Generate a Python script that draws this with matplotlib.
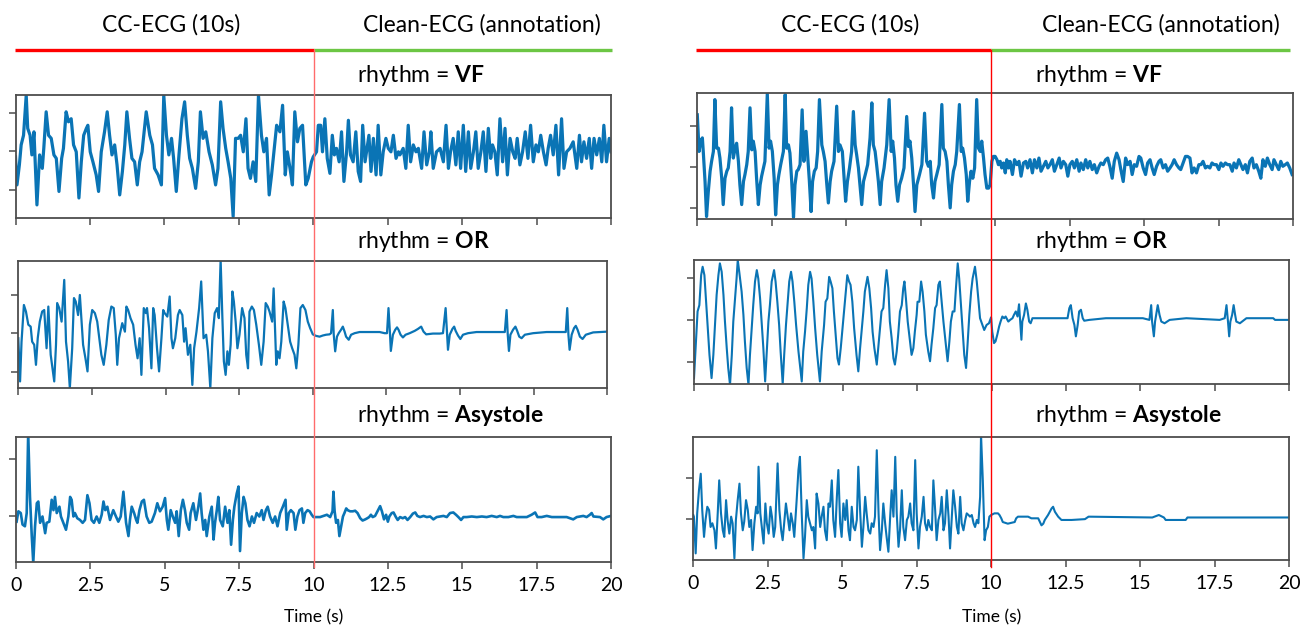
import matplotlib
matplotlib.use("Agg")
import matplotlib.pyplot as plt
from matplotlib.lines import Line2D

plt.rcParams['font.family'] = ['Lato', 'DejaVu Sans']
plt.rcParams['mathtext.fontset'] = 'custom'
plt.rcParams['mathtext.rm'] = 'Lato'
plt.rcParams['mathtext.bf'] = 'Lato:bold'

# ---------------------------------------------------------------- data
# (time [s], amplitude [a.u.]) vertices of each recording
vf_left = [
    (0.00, -0.15), (0.05, -0.88), (0.13, -0.36), (0.19, 0.16), (0.27, 0.41), (0.36, 1.45), (0.41, 0.59),
    (0.49, 0.41), (0.55, -0.10), (0.62, 0.50), (0.72, -1.40), (0.81, -0.10), (0.90, -0.45), (0.95, 0.07),
    (1.03, 1.02), (1.11, 0.41), (1.20, 0.33), (1.29, -0.10), (1.37, -0.19), (1.46, -1.05), (1.55, -0.19),
    (1.61, 0.07), (1.70, 1.02), (1.78, 0.76), (1.87, 0.84), (1.95, 0.16), (2.04, -0.02), (2.13, -1.22),
    (2.21, -0.28), (2.29, 0.41), (2.38, 0.59), (2.43, 0.67), (2.51, -0.02), (2.60, -0.28), (2.71, -0.62),
    (2.79, -1.05), (2.88, -0.02), (2.99, 0.50), (3.08, 1.02), (3.16, 0.41), (3.24, -0.10), (3.33, 0.16),
    (3.41, -0.36), (3.50, -1.14), (3.59, -0.53), (3.67, 0.16), (3.74, 1.02), (3.83, 0.33), (3.91, -0.19),
    (4.00, -0.28), (4.09, -0.88), (4.17, -0.28), (4.25, -0.02), (4.32, 0.50), (4.39, 1.02), (4.51, 0.41),
    (4.60, 0.16), (4.67, -0.45), (4.79, -0.62), (4.90, -0.88), (4.98, 1.45), (5.07, 0.41), (5.15, -0.10),
    (5.24, 0.33), (5.31, -0.19), (5.40, -1.05), (5.49, -0.10), (5.59, 0.84), (5.68, 1.28), (5.77, 0.41),
    (5.85, -0.19), (5.94, -0.45), (6.05, -0.97), (6.14, -0.28), (6.21, 1.02), (6.30, 0.33), (6.39, 0.50),
    (6.50, -0.02), (6.61, -0.36), (6.72, -0.88), (6.80, -0.45), (6.89, 1.28), (6.97, 0.59), (7.06, 0.07),
    (7.14, -0.28), (7.23, -0.71), (7.31, -1.70), (7.39, 0.33), (7.48, 0.33), (7.56, 0.41), (7.65, -0.02),
    (7.74, 0.84), (7.81, -0.45), (7.89, -0.71), (7.98, -0.28), (8.07, -0.79), (8.16, 1.45), (8.26, 0.41),
    (8.34, -0.02), (8.43, 0.33), (8.52, -1.14), (8.60, -0.62), (8.68, -0.02), (8.77, 0.67), (8.88, 0.50),
    (8.97, 1.19), (9.06, -0.62), (9.13, -0.02), (9.22, -0.45), (9.30, -0.88), (9.38, 1.02), (9.47, 0.24),
    (9.55, 0.59), (9.64, 0.67), (9.75, -0.88), (9.83, -0.71), (9.94, -0.28),
    (10.00, -0.15), (10.11, -0.02), (10.17, 0.67), (10.25, 0.67), (10.31, -0.02), (10.39, 0.84),
    (10.47, -0.19), (10.56, -0.58), (10.64, 0.41), (10.71, -0.10), (10.78, 0.07), (10.87, -0.28),
    (10.95, 0.50), (11.03, -0.79), (11.12, -0.02), (11.18, 0.80), (11.25, -0.10), (11.34, -0.28),
    (11.43, 0.50), (11.51, -0.53), (11.59, -0.79), (11.66, 0.67), (11.74, -0.28), (11.79, -0.02),
    (11.87, 0.41), (11.94, -0.53), (12.02, 0.33), (12.11, -0.62), (12.18, 0.67), (12.27, -0.62),
    (12.35, -0.02), (12.44, 0.33), (12.52, 0.07), (12.61, -0.02), (12.69, 0.41), (12.78, -0.19),
    (12.86, -0.02), (12.91, -0.10), (13.02, 0.07), (13.11, -0.45), (13.19, 0.67), (13.27, -0.28),
    (13.36, 0.16), (13.45, -0.02), (13.53, 0.07), (13.64, -0.45), (13.72, 0.50), (13.81, -0.36),
    (13.90, -0.02), (13.95, 0.50), (14.03, -0.45), (14.14, -0.02), (14.26, 0.07), (14.37, -0.28),
    (14.46, 0.67), (14.54, -0.45), (14.61, -0.02), (14.70, 0.33), (14.79, -0.36), (14.87, 0.50),
    (14.95, -0.45), (15.04, 0.67), (15.12, -0.53), (15.21, 0.50), (15.29, -0.45), (15.38, -0.02),
    (15.46, 0.50), (15.54, -0.45), (15.63, -0.02), (15.71, 0.50), (15.80, -0.53), (15.88, 0.59),
    (15.96, -0.19), (16.02, 0.16), (16.10, -0.02), (16.18, -0.62), (16.27, 0.84), (16.36, -0.28),
    (16.44, 0.59), (16.52, -0.62), (16.61, 0.33), (16.70, -0.02), (16.78, -0.19), (16.85, 0.33),
    (16.94, -0.36), (17.03, -0.02), (17.12, 0.50), (17.21, -0.19), (17.30, 0.67), (17.39, -0.28),
    (17.48, 0.16), (17.56, -0.02), (17.64, 0.41), (17.73, -0.02), (17.82, -0.36), (17.89, 0.07),
    (17.97, 0.41), (18.06, -0.10), (18.15, 0.67), (18.24, -0.62), (18.34, 0.84), (18.42, -0.45),
    (18.51, -0.02), (18.62, 0.07), (18.73, 0.24), (18.85, -0.45), (18.94, 0.41), (19.01, -0.28),
    (19.09, 0.24), (19.18, -0.19), (19.27, 0.33), (19.35, -0.45), (19.43, 0.33), (19.52, -0.10),
    (19.61, 0.33), (19.69, -0.28), (19.76, 0.67), (19.85, -0.28), (19.94, 0.33), (20.00, -0.02),
]

or_left = [
    (0.00, -0.13), (0.06, -1.25), (0.11, -0.22), (0.19, 0.73), (0.26, 0.56), (0.34, 0.22), (0.42, 0.17),
    (0.47, -0.22), (0.54, -0.30), (0.60, -0.82), (0.66, -0.13), (0.73, 0.30), (0.81, 0.56), (0.88, 0.60),
    (0.96, -0.39), (1.02, 0.69), (1.10, -0.56), (1.16, -0.91), (1.22, -1.25), (1.28, -0.30), (1.32, 0.78),
    (1.39, 0.65), (1.47, 0.30), (1.56, 1.38), (1.62, -0.22), (1.69, -0.73), (1.75, -1.42), (1.83, -0.39),
    (1.89, 0.91), (1.95, 0.82), (2.03, 0.47), (2.09, 0.99), (2.15, 0.30), (2.20, -0.30), (2.28, -0.65),
    (2.35, -0.99), (2.43, 0.22), (2.51, 0.60), (2.60, 0.52), (2.68, 0.30), (2.75, -0.13), (2.82, -0.56),
    (2.90, -0.82), (2.99, -0.30), (3.07, 0.34), (3.16, 0.69), (3.24, 0.65), (3.31, -0.04), (3.36, -0.82),
    (3.42, -0.13), (3.53, 0.26), (3.62, 0.04), (3.67, 0.69), (3.73, 0.60), (3.81, 0.39), (3.90, 0.22),
    (3.98, -0.30), (4.05, -0.65), (4.12, -0.13), (4.18, -1.08), (4.26, 0.65), (4.33, 0.52), (4.37, 0.65),
    (4.44, 0.13), (4.52, -0.91), (4.58, 0.65), (4.63, 0.47), (4.71, -0.39), (4.78, -0.99), (4.86, -0.13),
    (4.92, 0.60), (4.97, 0.52), (5.06, 0.43), (5.14, 0.95), (5.20, -0.13), (5.25, -0.39), (5.33, -0.13),
    (5.42, 0.47), (5.48, 0.60), (5.57, 0.47), (5.63, -0.22), (5.68, 0.13), (5.76, -0.56), (5.84, -0.30),
    (5.91, -1.34), (5.97, -0.39), (6.05, 0.04), (6.14, 0.65), (6.21, 1.34), (6.29, -0.13), (6.38, -0.04),
    (6.44, -0.47), (6.52, -1.42), (6.59, -0.13), (6.67, 0.52), (6.75, 0.65), (6.81, 0.39), (6.87, 1.90),
    (6.93, 0.39), (6.98, -0.73), (7.04, -1.08), (7.10, -0.47), (7.15, -0.82), (7.21, -0.30), (7.27, 1.08),
    (7.32, 0.82), (7.38, 0.30), (7.44, -0.39), (7.51, -0.04), (7.60, 0.65), (7.68, 0.39), (7.74, -0.56),
    (7.80, -0.91), (7.85, 0.56), (7.93, 0.69), (8.00, 0.60), (8.08, 0.22), (8.17, -0.30), (8.25, -0.82),
    (8.33, -0.22), (8.40, 0.78), (8.47, 0.69), (8.53, 0.56), (8.62, 0.30), (8.67, 1.16), (8.71, 0.30),
    (8.76, -0.82), (8.81, -0.47), (8.87, -0.65), (8.93, -0.22), (9.01, 0.82), (9.07, 0.65), (9.15, 0.22),
    (9.23, -0.22), (9.30, -0.39), (9.38, -0.56), (9.44, -0.91), (9.51, -0.30), (9.58, 0.65), (9.66, 0.73),
    (9.75, 0.60), (9.83, 0.30), (9.91, 0.13),
    (10.00, -0.03), (10.11, -0.07), (10.23, -0.09), (10.34, -0.06), (10.45, -0.04), (10.57, -0.03),
    (10.62, 0.00), (10.68, 0.60), (10.71, -0.03), (10.76, -0.47), (10.82, -0.09), (10.88, 0.00),
    (10.96, 0.09), (11.02, 0.17), (11.08, 0.04), (11.13, -0.09), (11.22, -0.17), (11.30, -0.04),
    (11.42, 0.00), (11.59, 0.03), (12.27, 0.03), (12.44, 0.00), (12.52, 0.00), (12.57, 0.65),
    (12.62, 0.00), (12.65, -0.46), (12.72, -0.04), (12.80, 0.09), (12.86, 0.15), (12.91, 0.09),
    (12.98, -0.04), (13.06, -0.11), (13.15, -0.04), (13.29, 0.00), (13.46, 0.06), (13.57, 0.11),
    (13.68, 0.17), (13.76, 0.04), (13.85, -0.03), (14.08, -0.01), (14.31, -0.01), (14.42, 0.00),
    (14.51, 0.65), (14.56, -0.04), (14.59, -0.43), (14.65, -0.04), (14.74, 0.11), (14.80, 0.17),
    (14.85, 0.06), (14.93, -0.06), (15.01, -0.15), (15.10, -0.04), (15.27, 0.00), (15.56, 0.03),
    (16.52, 0.03), (16.58, 0.60), (16.62, -0.04), (16.66, -0.46), (16.71, -0.04), (16.80, 0.09),
    (16.88, 0.17), (16.94, 0.06), (17.01, -0.09), (17.09, -0.13), (17.20, -0.04), (17.48, 0.00),
    (17.94, 0.03), (18.59, 0.03), (18.64, 0.65), (18.68, -0.04), (18.72, -0.43), (18.79, -0.04),
    (18.87, 0.13), (18.93, 0.19), (18.99, 0.09), (19.07, -0.09), (19.16, -0.15), (19.27, -0.04),
    (19.52, 0.02), (20.00, 0.04),
]

asys_left = [
    (0.02, -0.09), (0.08, 0.09), (0.16, 0.06), (0.22, -0.14), (0.30, -0.17), (0.36, 0.06), (0.41, 1.45),
    (0.47, 0.34), (0.53, -0.34), (0.58, -0.80), (0.64, -0.17), (0.70, 0.23), (0.75, 0.26), (0.81, -0.11),
    (0.89, 0.00), (0.98, -0.29), (1.03, -0.11), (1.12, -0.09), (1.20, 0.29), (1.26, 0.11), (1.31, 0.34),
    (1.37, 0.06), (1.46, 0.17), (1.51, 0.00), (1.59, -0.11), (1.68, -0.23), (1.76, 0.00), (1.82, 0.34),
    (1.87, 0.29), (1.93, 0.00), (1.98, 0.06), (2.06, -0.03), (2.15, -0.06), (2.24, -0.11), (2.32, -0.06),
    (2.40, 0.37), (2.47, 0.23), (2.54, -0.06), (2.62, -0.11), (2.71, 0.00), (2.80, -0.11), (2.88, 0.03),
    (2.94, 0.26), (3.00, 0.11), (3.07, 0.17), (3.16, -0.06), (3.27, 0.11), (3.36, 0.00), (3.44, -0.09),
    (3.52, 0.00), (3.61, 0.43), (3.70, -0.11), (3.78, -0.34), (3.83, -0.06), (3.89, 0.17), (3.97, 0.06),
    (4.04, -0.06), (4.08, -0.11), (4.15, 0.11), (4.23, 0.26), (4.30, 0.29), (4.39, 0.00), (4.48, -0.11),
    (4.56, -0.09), (4.67, 0.06), (4.75, 0.23), (4.84, 0.09), (4.93, 0.17), (5.01, 0.32), (5.07, -0.06),
    (5.12, -0.23), (5.20, 0.11), (5.27, 0.00), (5.35, -0.11), (5.40, 0.09), (5.47, -0.34), (5.54, 0.11),
    (5.61, 0.29), (5.68, 0.11), (5.74, -0.11), (5.82, -0.23), (5.87, 0.06), (5.96, 0.23), (6.05, -0.06),
    (6.13, 0.17), (6.19, 0.40), (6.24, 0.06), (6.30, -0.23), (6.36, -0.06), (6.41, -0.34), (6.50, 0.00),
    (6.58, 0.17), (6.64, -0.40), (6.69, -0.11), (6.75, 0.11), (6.80, 0.34), (6.86, -0.06), (6.95, -0.17),
    (7.03, 0.17), (7.11, -0.11), (7.17, 0.11), (7.23, -0.49), (7.29, -0.06), (7.34, 0.17), (7.42, 0.40),
    (7.48, 0.52), (7.53, -0.60), (7.59, 0.06), (7.65, 0.34), (7.71, 0.23), (7.78, -0.06), (7.85, -0.17),
    (7.93, 0.00), (8.00, -0.11), (8.09, 0.06), (8.18, 0.00), (8.26, 0.11), (8.32, -0.06), (8.40, 0.11),
    (8.46, 0.17), (8.54, 0.00), (8.63, -0.11), (8.71, 0.00), (8.79, -0.17), (8.88, 0.06), (8.97, 0.17),
    (9.06, 0.29), (9.10, -0.23), (9.17, 0.06), (9.24, 0.11), (9.33, 0.06), (9.39, -0.23), (9.46, 0.00),
    (9.53, 0.11), (9.61, 0.14), (9.66, -0.11), (9.72, 0.06), (9.80, 0.11), (9.87, 0.09), (9.94, 0.03),
    (10.00, -0.01), (10.22, -0.01), (10.34, 0.01), (10.45, 0.03), (10.56, -0.01), (10.64, 0.09),
    (10.67, 0.43), (10.71, 0.09), (10.76, -0.11), (10.82, -0.06), (10.87, -0.34), (10.93, -0.17),
    (10.99, 0.00), (11.04, 0.06), (11.10, 0.14), (11.15, 0.11), (11.23, 0.09), (11.32, 0.09),
    (11.40, 0.10), (11.48, 0.06), (11.57, -0.03), (11.65, -0.07), (11.74, -0.05), (11.81, -0.03),
    (11.87, -0.01), (11.93, 0.03), (11.99, -0.01), (12.07, 0.01), (12.15, 0.09), (12.24, 0.18),
    (12.30, 0.09), (12.37, -0.05), (12.44, 0.03), (12.50, -0.09), (12.55, 0.00), (12.63, 0.06),
    (12.69, 0.07), (12.77, -0.01), (12.83, -0.06), (12.91, -0.01), (13.00, -0.03), (13.08, -0.01),
    (13.16, -0.06), (13.25, -0.01), (13.34, 0.05), (13.42, 0.07), (13.49, 0.01), (13.58, -0.01),
    (13.70, 0.01), (13.81, -0.01), (13.92, 0.00), (14.03, -0.05), (14.14, -0.01), (14.26, 0.00),
    (14.37, 0.01), (14.48, -0.01), (14.59, 0.06), (14.70, 0.07), (14.79, 0.03), (14.87, -0.01),
    (14.96, -0.06), (15.04, -0.01), (15.15, -0.01), (15.32, 0.00), (15.49, -0.01), (15.66, 0.00),
    (15.82, -0.01), (15.99, 0.01), (16.16, -0.01), (16.27, 0.01), (16.38, -0.01), (16.55, -0.01),
    (16.72, 0.01), (16.83, -0.01), (17.17, -0.01), (17.33, 0.03), (17.45, 0.07), (17.53, -0.01),
    (17.67, -0.01), (17.84, 0.01), (18.01, -0.01), (18.51, -0.01), (18.73, -0.05), (18.85, -0.01),
    (19.07, 0.01), (19.18, -0.01), (19.29, 0.03), (19.35, 0.06), (19.41, 0.00), (19.63, -0.01),
    (19.74, -0.05), (19.85, -0.01), (20.00, 0.01),
]

vf_right = [
    (0.00, 1.26), (0.06, 0.37), (0.11, 0.62), (0.17, 0.70), (0.20, 0.37), (0.26, -0.36), (0.31, -1.21),
    (0.37, -0.60), (0.43, -0.11), (0.48, 0.13), (0.54, 0.37), (0.59, 1.63), (0.65, 0.45), (0.71, 0.45),
    (0.76, 0.21), (0.82, -0.28), (0.87, -0.92), (0.93, -0.28), (0.99, -0.11), (1.04, -0.03), (1.10, 0.37),
    (1.15, 1.43), (1.21, 0.21), (1.27, 0.45), (1.32, 0.57), (1.38, 0.13), (1.43, -0.44), (1.49, -0.92),
    (1.55, -0.36), (1.60, -0.19), (1.66, 0.05), (1.71, 0.37), (1.77, 1.43), (1.83, 0.41), (1.88, 0.62),
    (1.94, 0.37), (1.99, -0.28), (2.05, -0.92), (2.11, -0.44), (2.16, -0.23), (2.22, -0.03), (2.27, 0.13),
    (2.35, 1.77), (2.41, 0.45), (2.46, 0.62), (2.52, 0.37), (2.58, -0.28), (2.63, -1.17), (2.69, -0.44),
    (2.74, -0.19), (2.80, 0.05), (2.89, 0.37), (2.95, 1.75), (3.00, 0.45), (3.06, 0.53), (3.11, 0.33),
    (3.17, -0.36), (3.23, -1.23), (3.28, -0.44), (3.34, -0.11), (3.39, -0.07), (3.45, 0.05), (3.52, 1.38),
    (3.58, 0.13), (3.65, 0.86), (3.71, 0.21), (3.76, -0.32), (3.82, -1.09), (3.87, -0.36), (3.93, -0.11),
    (3.99, -0.03), (4.04, 0.37), (4.10, 1.63), (4.18, 0.53), (4.23, 0.37), (4.29, 0.13), (4.34, -0.36),
    (4.40, -0.88), (4.46, -0.36), (4.51, -0.11), (4.59, 0.13), (4.68, 1.47), (4.74, 0.37), (4.79, 0.53),
    (4.87, 0.37), (4.93, -0.28), (4.98, -0.84), (5.04, -0.36), (5.11, -0.03), (5.18, 0.37), (5.24, 1.34),
    (5.30, 0.53), (5.35, 0.29), (5.41, -0.03), (5.46, -0.44), (5.52, -0.92), (5.58, -0.36), (5.64, -0.19),
    (5.72, 0.05), (5.80, 0.70), (5.86, 1.55), (5.91, 0.53), (5.97, 0.37), (6.02, 0.05), (6.08, -0.36),
    (6.14, -0.92), (6.19, -0.36), (6.27, -0.03), (6.36, 0.53), (6.44, 1.63), (6.51, 0.37), (6.56, 0.62),
    (6.62, 0.21), (6.67, -0.44), (6.73, -0.84), (6.79, -0.44), (6.86, -0.28), (6.94, -0.03), (7.03, 1.22),
    (7.09, 0.49), (7.14, 0.62), (7.20, 0.21), (7.26, -0.44), (7.31, -1.09), (7.37, -0.44), (7.46, -0.19),
    (7.54, 0.05), (7.63, 1.30), (7.70, 0.13), (7.76, 0.01), (7.82, 0.13), (7.87, -0.44), (7.93, -0.76),
    (7.98, -0.36), (8.04, -0.19), (8.12, 0.05), (8.21, 1.51), (8.26, 0.45), (8.32, 0.37), (8.38, 0.13),
    (8.43, -0.44), (8.49, -1.00), (8.54, -0.44), (8.60, -0.11), (8.66, 0.05), (8.71, 0.37), (8.80, 1.51),
    (8.86, 0.37), (8.91, 0.45), (8.97, 0.21), (9.03, -0.19), (9.08, -0.84), (9.14, -0.36), (9.19, -0.11),
    (9.25, -0.28), (9.31, -0.03), (9.38, 1.63), (9.44, 0.45), (9.50, 0.37), (9.55, 0.62), (9.61, 0.21),
    (9.66, -0.19), (9.72, -0.52), (9.78, -0.52), (9.83, -0.44), (9.89, 0.13), (9.94, 0.25),
    (10.00, 0.25), (10.06, 0.17), (10.11, 0.05), (10.17, 0.13), (10.22, -0.03), (10.28, 0.09),
    (10.34, -0.15), (10.39, 0.17), (10.45, -0.03), (10.50, 0.13), (10.58, -0.19), (10.65, 0.17),
    (10.73, 0.05), (10.80, 0.13), (10.87, -0.23), (10.95, 0.09), (11.03, 0.13), (11.09, -0.03),
    (11.17, 0.17), (11.25, -0.15), (11.32, 0.17), (11.40, -0.03), (11.47, 0.21), (11.54, -0.11),
    (11.62, 0.01), (11.70, 0.13), (11.77, -0.03), (11.84, 0.05), (11.92, 0.17), (11.99, -0.11),
    (12.07, 0.05), (12.15, 0.21), (12.21, -0.03), (12.29, 0.13), (12.37, 0.05), (12.44, -0.23),
    (12.51, 0.05), (12.59, 0.13), (12.66, -0.03), (12.74, 0.17), (12.82, -0.11), (12.88, 0.09),
    (12.96, -0.07), (13.04, 0.17), (13.11, -0.03), (13.18, 0.13), (13.26, -0.07), (13.33, 0.05),
    (13.41, -0.15), (13.49, 0.01), (13.55, 0.09), (13.63, 0.05), (13.71, 0.17), (13.78, 0.21),
    (13.85, 0.01), (13.93, -0.28), (14.00, 0.13), (14.08, 0.33), (14.16, 0.17), (14.22, -0.07),
    (14.30, -0.36), (14.38, 0.21), (14.45, 0.05), (14.53, 0.13), (14.60, -0.19), (14.67, 0.05),
    (14.75, 0.01), (14.83, 0.25), (14.89, 0.21), (14.97, -0.03), (15.05, -0.19), (15.12, 0.09),
    (15.20, 0.17), (15.27, -0.03), (15.34, -0.19), (15.42, 0.01), (15.50, 0.13), (15.56, 0.17),
    (15.64, -0.03), (15.72, 0.05), (15.79, -0.11), (15.87, -0.03), (15.94, 0.05), (16.01, 0.17),
    (16.09, 0.05), (16.17, -0.03), (16.23, -0.07), (16.31, 0.09), (16.39, 0.25), (16.46, 0.25),
    (16.54, 0.21), (16.61, -0.15), (16.68, -0.03), (16.76, -0.15), (16.84, 0.05), (16.91, 0.05),
    (16.98, 0.13), (17.06, -0.03), (17.13, 0.01), (17.21, -0.03), (17.28, 0.09), (17.35, 0.05),
    (17.43, 0.05), (17.51, -0.07), (17.58, 0.09), (17.65, 0.01), (17.73, 0.09), (17.80, 0.05),
    (17.88, 0.05), (17.96, -0.11), (18.02, 0.09), (18.10, -0.03), (18.18, 0.17), (18.25, 0.05),
    (18.32, -0.07), (18.40, 0.05), (18.47, -0.15), (18.55, 0.13), (18.63, 0.21), (18.69, -0.03),
    (18.77, 0.05), (18.85, -0.11), (18.92, -0.28), (18.99, 0.17), (19.07, 0.01), (19.14, 0.21),
    (19.22, 0.05), (19.30, -0.07), (19.36, 0.17), (19.44, 0.05), (19.52, -0.07), (19.59, 0.13),
    (19.66, 0.01), (19.74, 0.05), (19.81, 0.09), (19.89, -0.03), (19.97, -0.19),
]

or_right = [
    (0.00, -1.38), (0.07, -0.43), (0.12, 0.20), (0.18, 0.35), (0.24, 1.06), (0.29, 1.26), (0.35, 1.06),
    (0.40, 0.51), (0.46, -0.12), (0.52, -0.83), (0.59, -1.38), (0.65, -0.83), (0.71, -0.04), (0.76, 0.59),
    (0.82, 1.06), (0.87, 1.34), (0.93, 1.14), (0.99, 0.59), (1.04, -0.04), (1.10, -0.67), (1.15, -1.14),
    (1.21, -1.54), (1.27, -0.83), (1.32, -0.04), (1.38, 0.51), (1.43, 0.98), (1.47, 1.42), (1.52, 1.14),
    (1.60, 0.67), (1.66, 0.12), (1.71, -0.51), (1.77, -1.14), (1.83, -1.54), (1.88, -0.83), (1.94, -0.20),
    (1.99, 0.35), (2.05, 0.91), (2.11, 1.18), (2.16, 0.98), (2.22, 0.51), (2.27, -0.04), (2.33, -0.67),
    (2.39, -1.46), (2.44, -0.83), (2.50, -0.04), (2.55, 0.35), (2.61, 0.91), (2.69, 1.18), (2.74, 0.91),
    (2.80, 0.43), (2.86, -0.12), (2.91, -0.75), (2.98, -1.52), (3.03, -0.83), (3.09, -0.12), (3.15, 0.43),
    (3.20, 0.91), (3.26, 1.14), (3.31, 0.91), (3.37, 0.43), (3.43, -0.12), (3.51, -0.75), (3.62, -1.46),
    (3.67, -0.75), (3.73, -0.28), (3.79, 0.28), (3.84, 0.83), (3.90, 1.14), (3.95, 0.98), (4.01, 0.43),
    (4.07, -0.20), (4.14, -0.83), (4.23, -1.46), (4.29, -0.75), (4.37, -0.12), (4.42, 0.43), (4.48, 0.51),
    (4.54, 1.02), (4.59, 0.91), (4.65, 0.75), (4.70, 0.20), (4.76, -0.35), (4.82, -0.91), (4.87, -1.06),
    (4.93, -0.67), (4.98, -0.28), (5.04, 0.20), (5.10, 0.67), (5.15, 1.06), (5.21, 0.91), (5.26, 0.83),
    (5.32, 0.43), (5.38, -0.20), (5.46, -0.83), (5.52, -1.22), (5.58, -0.67), (5.63, -0.28), (5.69, 0.20),
    (5.74, 0.67), (5.83, 1.02), (5.89, 0.75), (5.95, 0.28), (6.00, -0.28), (6.06, -0.67), (6.14, -1.06),
    (6.19, -0.67), (6.25, -0.20), (6.30, 0.20), (6.36, 0.28), (6.42, 0.83), (6.47, 1.18), (6.53, 0.75),
    (6.58, -0.04), (6.64, -0.43), (6.70, -0.91), (6.75, -1.06), (6.81, -0.75), (6.86, -0.35), (6.92, 0.20),
    (6.98, 0.35), (7.03, 0.75), (7.07, 0.91), (7.12, 0.51), (7.18, -0.04), (7.23, -0.35), (7.31, -0.83),
    (7.37, -0.67), (7.42, -0.28), (7.48, 0.12), (7.51, 0.43), (7.57, 0.43), (7.63, 0.91), (7.68, 0.67),
    (7.74, 0.20), (7.79, -0.35), (7.87, -0.75), (7.93, -0.98), (7.98, -0.59), (8.04, -0.20), (8.10, 0.28),
    (8.15, 0.35), (8.21, 0.83), (8.26, 0.91), (8.32, 0.43), (8.38, -0.04), (8.45, -0.51), (8.52, -0.98),
    (8.58, -0.51), (8.63, -0.04), (8.69, 0.20), (8.75, 0.20), (8.80, 0.75), (8.86, 1.34), (8.91, 0.98),
    (8.97, 0.35), (9.03, -0.28), (9.08, -0.83), (9.14, -1.14), (9.19, -0.59), (9.25, 0.12), (9.31, 0.67),
    (9.36, 0.98), (9.44, 1.26), (9.50, 0.91), (9.55, 0.51), (9.61, 0.04), (9.69, -0.12), (9.75, -0.24),
    (9.83, -0.12), (9.91, -0.08), (9.98, 0.06),
    (10.02, -0.28), (10.08, -0.55), (10.13, -0.51), (10.19, -0.35), (10.25, -0.16), (10.30, -0.04),
    (10.36, 0.08), (10.42, 0.04), (10.47, 0.08), (10.56, -0.04), (10.62, 0.00), (10.70, 0.04),
    (10.75, 0.12), (10.81, 0.20), (10.87, 0.08), (10.92, 0.37), (10.96, -0.04), (11.00, -0.47),
    (11.03, -0.04), (11.09, 0.12), (11.15, 0.39), (11.20, 0.24), (11.26, -0.04), (11.31, -0.08),
    (11.37, 0.04), (12.27, 0.04), (12.55, 0.04), (12.61, 0.28), (12.66, 0.35), (12.72, 0.04),
    (12.78, -0.12), (12.83, -0.39), (12.89, -0.12), (12.94, 0.20), (13.00, 0.24), (13.06, 0.04),
    (13.11, -0.02), (13.28, 0.00), (13.84, 0.04), (15.08, 0.04), (15.30, 0.00), (15.36, 0.35),
    (15.39, -0.04), (15.45, -0.39), (15.49, -0.04), (15.58, 0.35), (15.64, 0.12), (15.70, -0.04),
    (15.81, -0.08), (15.98, 0.00), (16.54, 0.04), (17.66, 0.00), (17.83, 0.04), (17.89, 0.35),
    (17.94, -0.04), (17.98, -0.39), (18.02, -0.04), (18.08, 0.12), (18.13, 0.35), (18.18, 0.12),
    (18.22, -0.04), (18.34, -0.08), (18.56, 0.04), (19.46, 0.04), (19.52, 0.00), (20.00, 0.00),
]

asys_right = [
    (0.00, 0.10), (0.02, 0.06), (0.08, -0.83), (0.13, 0.14), (0.19, 0.70), (0.25, 1.10), (0.30, 0.22),
    (0.36, -0.43), (0.41, -0.02), (0.47, 0.30), (0.53, 0.22), (0.58, -0.19), (0.64, -0.10), (0.71, -0.27),
    (0.76, -0.71), (0.82, 0.14), (0.87, 0.94), (0.93, 0.14), (0.99, -0.27), (1.04, -0.43), (1.10, 0.46),
    (1.15, -0.02), (1.21, -0.35), (1.27, 0.06), (1.32, -0.10), (1.38, -0.95), (1.43, -0.02), (1.49, 0.46),
    (1.55, 0.86), (1.60, 0.14), (1.66, -0.27), (1.71, -0.06), (1.77, 0.46), (1.83, 0.22), (1.88, -0.19),
    (1.94, -0.02), (1.99, -0.75), (2.05, -0.10), (2.11, 0.30), (2.16, 0.14), (2.19, 1.27), (2.25, 0.14),
    (2.31, -0.27), (2.36, -0.59), (2.42, 0.38), (2.47, -0.10), (2.53, -0.35), (2.59, 0.30), (2.64, 0.06),
    (2.70, -0.43), (2.75, -0.19), (2.83, 1.35), (2.89, 0.22), (2.95, -0.27), (3.00, -0.51), (3.06, -0.02),
    (3.11, 0.38), (3.17, 0.06), (3.23, -0.27), (3.28, 0.14), (3.34, -0.10), (3.39, -0.43), (3.47, 0.46),
    (3.53, 1.19), (3.58, 1.51), (3.64, 0.14), (3.70, -0.95), (3.75, -0.43), (3.81, 0.46), (3.86, 0.06),
    (3.92, -0.10), (3.98, -0.27), (4.03, -0.19), (4.09, -0.71), (4.14, 0.62), (4.20, 0.38), (4.26, -0.19),
    (4.31, 0.06), (4.37, 0.30), (4.42, -0.27), (4.48, -0.51), (4.54, 0.38), (4.59, 0.30), (4.65, 0.94),
    (4.70, -0.02), (4.76, -0.43), (4.82, 0.54), (4.87, 1.19), (4.93, -0.10), (4.98, -0.43), (5.04, 0.38),
    (5.10, -0.02), (5.15, 0.46), (5.21, -0.27), (5.26, -0.51), (5.32, 0.30), (5.38, -0.19), (5.43, -0.27),
    (5.49, -0.02), (5.54, 1.27), (5.60, 0.22), (5.66, -0.67), (5.71, -0.19), (5.77, 0.54), (5.82, 0.14),
    (5.88, -0.27), (5.94, -0.35), (5.99, -0.10), (6.05, -0.19), (6.10, 0.06), (6.16, 1.67), (6.22, 0.14),
    (6.27, -0.75), (6.33, -0.27), (6.38, 0.38), (6.44, -0.10), (6.49, -0.43), (6.55, -0.79), (6.61, 0.06),
    (6.66, 0.70), (6.72, 0.06), (6.78, 1.51), (6.83, 0.14), (6.89, -0.67), (6.94, -0.27), (7.00, 0.70),
    (7.05, -0.19), (7.11, -0.51), (7.17, -0.02), (7.22, 0.06), (7.28, 0.38), (7.33, -0.10), (7.39, -0.27),
    (7.45, 1.43), (7.50, 0.14), (7.56, -0.71), (7.61, -0.19), (7.67, 0.06), (7.73, 0.54), (7.78, -0.10),
    (7.84, -0.27), (7.89, -0.02), (7.95, -0.19), (8.01, -0.27), (8.06, 0.94), (8.12, 0.22), (8.17, -0.51),
    (8.23, -0.02), (8.29, 0.14), (8.34, 0.54), (8.40, -0.27), (8.45, -0.10), (8.51, 0.70), (8.57, 0.06),
    (8.62, -0.71), (8.68, 0.06), (8.73, 0.70), (8.79, 0.30), (8.85, -0.19), (8.90, -0.35), (8.96, 0.54),
    (9.01, -0.10), (9.07, -0.27), (9.13, -0.02), (9.18, 0.14), (9.24, 0.10), (9.29, 0.06), (9.35, 0.10),
    (9.41, -0.10), (9.46, -0.19), (9.52, -0.02), (9.57, -0.10), (9.63, 0.54), (9.66, 2.05), (9.72, 0.94),
    (9.78, -0.51), (9.83, -0.27), (9.89, -0.19), (9.94, 0.06),
    (10.00, 0.10), (10.11, 0.14), (10.23, 0.14), (10.28, 0.10), (10.34, 0.02), (10.39, -0.07),
    (10.56, -0.11), (10.79, -0.07), (10.84, 0.02), (10.90, 0.06), (11.01, 0.06), (11.24, 0.06),
    (11.35, 0.02), (11.58, 0.02), (11.69, -0.15), (11.75, -0.11), (11.80, -0.02), (11.91, 0.10),
    (12.03, 0.26), (12.08, 0.30), (12.14, 0.18), (12.25, 0.06), (12.36, -0.02), (12.70, -0.02),
    (13.15, 0.00), (13.27, 0.06), (15.41, 0.04), (15.63, 0.10), (15.80, 0.04), (15.86, -0.02),
    (16.53, -0.02), (16.59, 0.04), (20.00, 0.04),
]

time_ticks = [0, 2.5, 5, 7.5, 10, 12.5, 15, 17.5, 20]
time_labels = ["0", "2.5", "5", "7.5", "10", "12.5", "15", "17.5", "20"]
split_time = 10
rhythms = ["VF", "OR", "Asystole"]
segment_titles = ["CC-ECG (10s)", "Clean-ECG (annotation)"]

# ---------------------------------------------------------------- figure
W, H = 1313, 627
fig = plt.figure(figsize=(W / 100, H / 100), dpi=100)
fig.patch.set_facecolor("white")

SIGNAL = "#0a74b5"
SPINE = "#4d4d4d"


def fx(px):
    return px / W


def fy(py):
    return 1 - py / H


def add_panel(x0, x1, y0, y1, trace, ylim, yticks, lw, bottom_labels):
    ax = fig.add_axes([fx(x0), fy(y1), fx(x1) - fx(x0), fy(y0) - fy(y1)])
    t, v = zip(*trace)
    ax.plot(t, v, color=SIGNAL, lw=lw, solid_joinstyle="round", clip_on=True)
    ax.set_xlim(0, 20)
    ax.set_ylim(*ylim)
    ax.set_yticks(yticks)
    ax.set_yticklabels([])
    ax.set_xticks(time_ticks)
    if bottom_labels:
        ax.set_xticklabels(time_labels, fontsize=14)
    else:
        ax.set_xticklabels([])
    for s in ax.spines.values():
        s.set_color(SPINE)
        s.set_linewidth(1.3)
    ax.tick_params(direction="out", length=5, width=1.1, color=SPINE, pad=6, labelcolor="black")
    return ax


# panel boxes in pixels: (left, right, top, bottom)
left_axes = [
    add_panel(15.5, 611, 94.5, 218, vf_left, (-1.74, 1.47), [-1, 0, 1], 2.3, False),
    add_panel(18.3, 607.3, 261, 388, or_left, (-1.42, 1.87), [-1, 0, 1], 1.6, False),
    add_panel(16, 611, 437, 562, asys_left, (-0.79, 1.38), [0, 1], 1.9, True),
]
right_axes = [
    add_panel(697.3, 1293, 93, 219, vf_right, (-1.27, 1.79), [-1, 0, 1], 2.3, False),
    add_panel(694, 1289.3, 260, 384, or_right, (-1.52, 1.42), [-1, 0, 1], 1.5, False),
    add_panel(693.3, 1289, 437, 560, asys_right, (-0.99, 1.99), [0, 1], 1.5, True),
]

fig.canvas.draw()


def split_x(ax):
    disp = ax.transData.transform((split_time, 0))
    return fig.transFigure.inverted().transform(disp)[0]


for axes_col, x_start, x_end, title_x, vcolor in [
    (left_axes, 15, 612, (171, 482), "#ff6b6b"),
    (right_axes, 696, 1290, (850, 1161), "#ff0000"),
]:
    xs = split_x(axes_col[2])
    # header bars above the two segments
    fig.add_artist(Line2D([fx(x_start), xs], [fy(50), fy(50)], color="#ff0000", lw=2.4,
                          solid_capstyle="butt"))
    fig.add_artist(Line2D([xs, fx(x_end)], [fy(50), fy(50)], color="#6cc644", lw=2.4,
                          solid_capstyle="butt"))
    # boundary between compression and clean segment
    fig.add_artist(Line2D([xs, xs], [fy(50), fy(567)], color=vcolor, lw=1.0))
    # segment titles
    fig.text(fx(title_x[0]), fy(25), segment_titles[0], ha="center", va="center", fontsize=16.5)
    fig.text(fx(title_x[1]), fy(25), segment_titles[1], ha="center", va="center", fontsize=16.5)
    fig.text(xs, fy(617), "Time (s)", ha="center", va="center", fontsize=12.5)

for x_left in (357, 1035):
    for rhythm, ypix in zip(rhythms, (75, 242, 415)):
        fig.text(fx(x_left), fy(ypix), "rhythm = $\\mathbf{" + rhythm + "}$", ha="left",
                 va="center", fontsize=16.5)

fig.savefig("out.png", dpi=100, facecolor="white")
